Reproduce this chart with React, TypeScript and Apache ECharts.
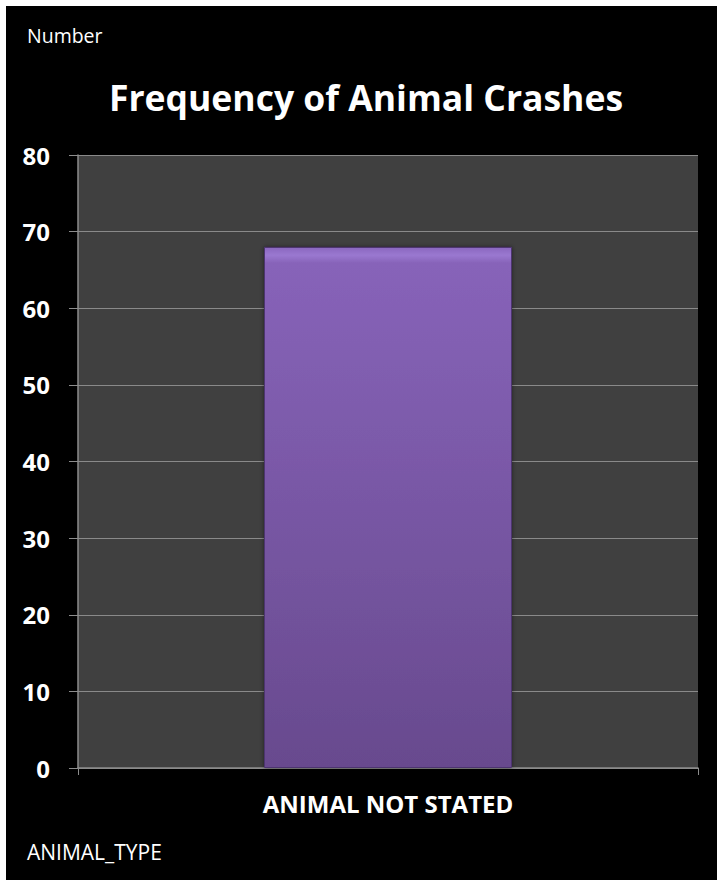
import React, { useEffect, useRef } from "react";
import * as echarts from "echarts";

const categories = ["ANIMAL NOT STATED"];
const values = [68];
const yMin = 0;
const yMax = 80;
const yInterval = 10;
const titleText = "Frequency of Animal Crashes";
const yAxisName = "Number";
const xAxisName = "ANIMAL_TYPE";

export default function App() {
  const ref = useRef<HTMLDivElement>(null);
  useEffect(() => {
    if (!ref.current) return;
    const chart = echarts.init(ref.current, null, { renderer: "svg" });
    const font = "'Open Sans', 'Noto Sans', sans-serif";
    chart.setOption({
      animation: false,
      backgroundColor: "#000000",
      graphic: [
        {
          type: "text",
          x: 21,
          y: 29.5,
          style: { text: yAxisName, fill: "#ffffff", fontSize: 19.5, fontFamily: font, verticalAlign: "middle" },
        },
        {
          type: "text",
          x: 360,
          y: 91,
          style: {
            text: titleText,
            fill: "#ffffff",
            fontSize: 35.5,
            fontWeight: "bold",
            fontFamily: font,
            align: "center",
            verticalAlign: "middle",
          },
        },
        {
          type: "text",
          x: 21,
          y: 846,
          style: { text: xAxisName, fill: "#ffffff", fontSize: 21, fontFamily: font, verticalAlign: "middle" },
        },
      ],
      grid: {
        left: 72,
        top: 149,
        width: 620,
        height: 613,
        show: true,
        backgroundColor: "#404040",
        borderWidth: 0,
        containLabel: false,
      },
      xAxis: {
        type: "category",
        data: categories,
        axisLine: { show: true, lineStyle: { color: "#8c8c8c", width: 1.5 } },
        axisTick: { show: true, length: 7, lineStyle: { color: "#8c8c8c" } },
        axisLabel: {
          color: "#ffffff",
          fontSize: 24,
          fontWeight: "bold",
          fontFamily: font,
          margin: 23.5,
        },
        splitLine: { show: false },
      },
      yAxis: {
        type: "value",
        min: yMin,
        max: yMax,
        interval: yInterval,
        axisLine: { show: true, lineStyle: { color: "#8c8c8c", width: 1.5 } },
        axisTick: { show: true, length: 9, lineStyle: { color: "#8c8c8c" } },
        axisLabel: {
          color: "#ffffff",
          fontSize: 24,
          fontWeight: "bold",
          fontFamily: font,
          margin: 28,
        },
        splitLine: { show: true, lineStyle: { color: "#8a8a8a", width: 1 } },
      },
      series: [
        {
          type: "bar",
          data: values,
          barWidth: "40%",
          itemStyle: {
            color: new echarts.graphic.LinearGradient(0, 0, 0, 1, [
              { offset: 0, color: "#8a67bf" },
              { offset: 0.015, color: "#9a78d0" },
              { offset: 0.03, color: "#8763b9" },
              { offset: 1, color: "#684a8e" },
            ]),
            borderColor: "#4e3670",
            borderWidth: 1,
            shadowColor: "rgba(0,0,0,0.5)",
            shadowBlur: 4,
          },
        },
      ],
    });
    return () => chart.dispose();
  }, []);
  return (
    <div style={{ position: "absolute", left: 0, top: 0, width: 717, height: 881, background: "#ffffff" }}>
      <div ref={ref} style={{ position: "absolute", left: 6, top: 6, width: 711, height: 874 }} />
    </div>
  );
}
